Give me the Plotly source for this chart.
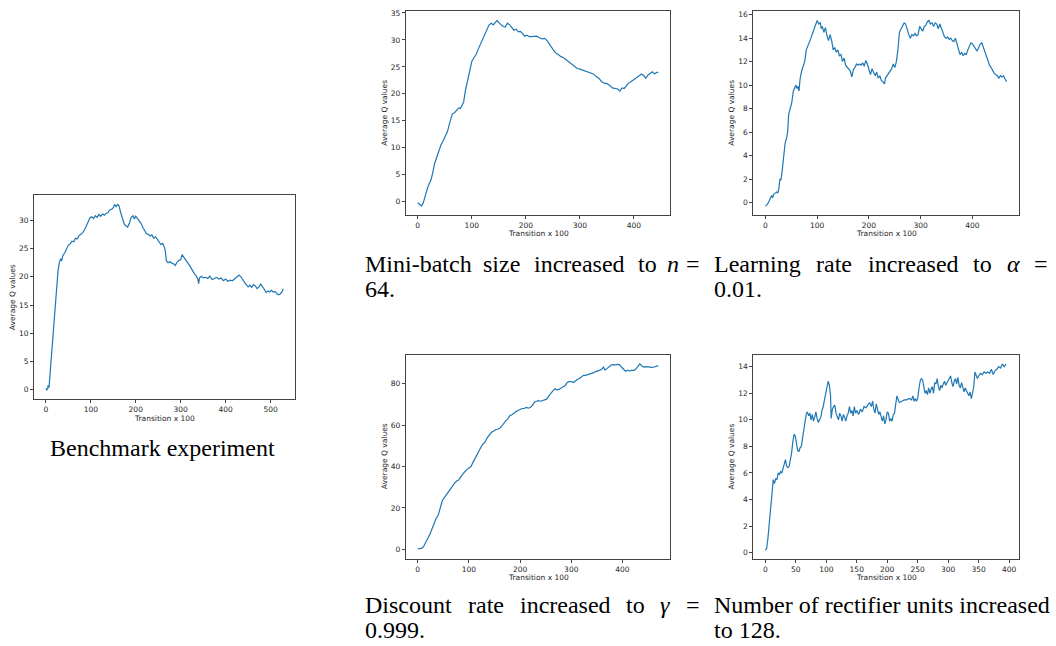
import plotly.graph_objects as go

# ---------------- data ----------------
bench_x = [0, 2, 4, 5, 7, 9, 12, 15, 18, 21, 24, 27, 30, 33, 35, 38, 42, 46, 50, 54, 58, 62, 66, 70, 74, 78, 82, 86, 90, 94, 98,
           102, 106, 110, 114, 118, 122, 126, 130, 134, 138, 142, 146, 150, 153, 156, 160, 163, 166, 170, 174, 178, 182, 186, 190,
           194, 197, 200, 204, 208, 212, 216, 220, 224, 228, 232, 236, 240, 244, 248, 252, 256, 260, 264, 266, 268, 272, 276, 280,
           284, 288, 292, 296, 300, 303, 306, 310, 314, 318, 322, 326, 330, 334, 338, 340, 342, 346, 350, 355, 360, 365, 370, 375,
           380, 385, 390, 395, 400, 405, 410, 415, 420, 425, 430, 434, 438, 442, 446, 450, 454, 458, 462, 466, 470, 474, 478, 482,
           486, 490, 494, 498, 502, 506, 510, 514, 518, 522, 526, 528]
bench_y = [0.3, 0.0, 0.2, 0.8, 0.4, 2.5, 5.5, 8, 12, 16, 19, 21, 22.5, 23.2, 22.8, 23.8, 24.2, 25.0, 25.6, 25.8, 26.3, 26.2, 26.8,
           26.7, 27.3, 27.5, 27.8, 28.3, 28.9, 29.7, 30.4, 30.6, 30.3, 30.8, 30.5, 31.0, 30.7, 31.1, 30.9, 31.2, 31.3, 31.8, 31.9,
           32.2, 32.8, 32.4, 32.8, 32.5, 31.5, 30.5, 29.4, 29.0, 28.8, 29.5, 30.5, 30.8, 30.2, 30.7, 30.3, 29.8, 29.4, 28.7, 28.2,
           27.6, 27.5, 27.2, 27.4, 26.8, 27.1, 26.6, 26.2, 25.7, 25.9, 25.2, 24.5, 22.8, 22.5, 22.7, 22.4, 22.3, 22.0, 22.6, 22.9,
           23.0, 23.9, 23.6, 23.2, 22.7, 22.2, 21.7, 21.0, 20.6, 20.2, 19.6, 18.8, 19.8, 20.1, 19.8, 19.9, 19.7, 20.1, 19.5, 19.7,
           19.9, 19.6, 19.8, 19.3, 19.6, 19.2, 19.4, 19.3, 19.6, 20.0, 20.3, 20.0, 19.4, 19.0, 18.6, 18.2, 18.5, 18.1, 18.6, 18.4,
           17.9, 18.2, 18.7, 18.3, 17.8, 17.2, 17.5, 17.3, 17.6, 17.3, 17.4, 17.0, 16.8, 17.0, 17.4, 17.9]

batch_x = [0, 7, 10, 12, 15, 18, 22, 25, 28, 31, 35, 39, 43, 47, 51, 55, 58, 61, 64, 68, 72, 76, 79, 82, 85, 88, 91, 94, 97, 100,
           104, 108, 112, 116, 120, 124, 128, 132, 136, 140, 144, 147, 150, 154, 158, 162, 166, 170, 174, 178, 182, 186, 190, 194,
           198, 202, 206, 210, 215, 220, 225, 230, 235, 240, 245, 250, 255, 260, 265, 270, 275, 280, 285, 290, 295, 300, 305, 310,
           315, 320, 325, 330, 335, 340, 345, 350, 355, 360, 365, 370, 374, 378, 382, 386, 390, 395, 400, 405, 410, 414, 418, 422,
           426, 430, 434, 438, 442, 445]
batch_y = [-0.2, -0.8, -0.3, 0.5, 1.5, 2.5, 3.5, 4.2, 5.5, 7.0, 8.2, 9.5, 10.5, 11.3, 12.2, 13.0, 14.2, 15.5, 16.3, 16.5, 16.9,
           17.4, 17.3, 17.8, 18.5, 20.5, 22.0, 23.5, 24.6, 26.0, 26.7, 27.3, 28.3, 29.2, 30.2, 31.0, 32.0, 32.8, 33.1, 32.8, 33.3,
           33.6, 33.2, 32.8, 32.5, 32.4, 33.1, 32.8, 32.3, 31.8, 32.0, 31.5, 31.6, 31.2, 30.7, 30.9, 30.6, 30.6, 30.6, 30.7, 30.4,
           30.2, 30.3, 29.8, 29.0, 28.2, 27.6, 27.3, 26.9, 26.7, 26.3, 26.0, 25.6, 25.2, 24.7, 24.6, 24.4, 24.3, 24.1, 23.9, 23.7,
           23.2, 22.9, 22.3, 22.0, 21.9, 21.6, 21.1, 21.0, 20.9, 20.5, 21.1, 21.0, 21.5, 22.0, 22.3, 22.7, 23.1, 23.5, 23.7, 23.4,
           22.9, 23.5, 23.8, 24.1, 23.7, 24.0, 24.0]

lr_x = [0, 3, 6, 9, 12, 14, 16, 19, 22, 24, 26, 28, 30, 32, 34, 36, 38, 41, 43, 45, 48, 51, 54, 57, 59, 61, 63, 65, 67, 70, 73, 76,
        79, 82, 85, 88, 91, 94, 97, 100, 103, 106, 108, 110, 113, 116, 119, 122, 125, 128, 131, 134, 137, 140, 143, 146, 149, 152,
        155, 158, 161, 164, 167, 170, 173, 176, 179, 182, 185, 188, 191, 194, 197, 200, 203, 206, 209, 212, 215, 218, 221, 224, 227,
        230, 232, 235, 238, 241, 244, 247, 250, 253, 256, 259, 262, 265, 268, 271, 274, 277, 280, 283, 286, 289, 292, 295, 298, 301,
        304, 307, 310, 313, 316, 319, 322, 325, 328, 331, 334, 337, 340, 343, 346, 349, 352, 355, 358, 361, 364, 367, 370, 373, 376,
        379, 382, 385, 388, 391, 394, 397, 400, 403, 406, 409, 412, 415, 418, 421, 424, 427, 430, 433, 436, 439, 442, 445, 448, 451,
        454, 457, 460, 463, 466]
lr_y = [-0.3, -0.2, 0.0, 0.3, 0.6, 0.4, 0.7, 0.8, 0.9, 0.8, 1.2, 2.0, 1.9, 2.5, 3.5, 4.5, 5.0, 5.5, 6.0, 7.5, 8.0, 8.5, 9.5, 9.8,
        10.0, 9.7, 9.9, 9.5, 10.5, 11.2, 11.6, 12.0, 13.0, 13.3, 13.7, 14.0, 14.4, 14.8, 15.1, 15.5, 15.2, 15.3, 14.8, 15.0, 14.5,
        14.9, 14.2, 13.8, 14.3, 13.8, 13.0, 13.2, 12.8, 13.0, 12.5, 12.6, 12.0, 12.3, 11.7, 11.5, 11.4, 11.2, 10.7, 11.3, 11.5, 11.8,
        11.7, 11.8, 11.7, 11.9, 11.6, 12.1, 11.8, 11.3, 10.9, 11.4, 11.0, 10.8, 11.1, 10.6, 10.8, 10.4, 10.3, 10.1, 10.6, 10.8, 11.0,
        11.2, 11.4, 11.8, 11.5, 12.0, 13.0, 14.5, 14.8, 15.1, 15.3, 15.2, 14.7, 14.3, 14.0, 14.3, 14.2, 14.4, 14.2, 14.3, 15.0, 14.8,
        14.6, 15.0, 15.1, 15.4, 15.5, 15.2, 15.3, 15.0, 15.3, 15.2, 14.8, 15.2, 14.8, 14.3, 14.1, 14.0, 14.1, 13.9, 14.0, 13.8, 13.7,
        14.0, 13.5, 13.0, 12.6, 12.8, 12.5, 12.7, 12.6, 13.0, 13.3, 13.6, 13.5, 13.3, 13.0, 12.9, 13.2, 13.5, 13.6, 13.2, 12.8, 12.3,
        12.0, 11.7, 11.5, 11.2, 11.0, 10.9, 10.8, 10.6, 10.8, 10.7, 10.8, 10.5, 10.3]

disc_x = [0, 5, 8, 11, 14, 17, 20, 24, 28, 32, 36, 40, 44, 48, 52, 56, 60, 64, 68, 72, 76, 80, 84, 88, 92, 96, 100, 104, 108, 112,
          116, 120, 124, 128, 132, 136, 140, 144, 148, 152, 156, 160, 164, 168, 172, 176, 180, 184, 188, 192, 196, 200, 204, 208,
          212, 216, 220, 224, 228, 232, 236, 240, 244, 248, 252, 256, 260, 264, 268, 272, 276, 280, 284, 288, 292, 296, 300, 304,
          308, 312, 316, 320, 324, 328, 332, 336, 340, 344, 348, 352, 356, 360, 363, 366, 370, 374, 378, 382, 386, 390, 394, 398,
          402, 406, 410, 414, 418, 422, 426, 430, 434, 438, 442, 446, 450, 454, 458, 462, 466, 470]
disc_y = [0.2, 0.3, 0.6, 1.2, 2.5, 4.0, 5.5, 7.5, 10.0, 13.0, 15.0, 16.5, 20.0, 23.5, 25.0, 26.5, 27.5, 29.0, 30.5, 32.0, 33.0,
          33.5, 35.0, 36.5, 37.5, 38.5, 39.5, 40.0, 42.0, 44.0, 46.0, 48.0, 49.5, 51.0, 52.0, 54.0, 55.5, 56.5, 57.0, 57.8, 58.0,
          58.5, 59.5, 61.0, 62.0, 63.0, 64.5, 65.0, 66.0, 66.5, 67.0, 67.5, 68.0, 68.0, 68.5, 68.2, 68.5, 69.5, 71.0, 71.5, 71.8,
          71.5, 71.8, 72.0, 72.5, 74.0, 75.5, 76.5, 77.5, 77.0, 77.2, 78.0, 78.5, 79.0, 80.5, 81.0, 81.0, 80.5, 81.5, 82.0, 82.5,
          83.5, 84.0, 84.0, 84.3, 84.5, 85.0, 85.3, 85.8, 86.0, 86.5, 87.0, 88.0, 86.5, 87.5, 88.5, 89.0, 89.2, 89.0, 89.3, 89.2,
          88.0, 87.0, 86.0, 86.5, 86.0, 86.5, 86.3, 87.0, 88.5, 89.5, 88.5, 88.0, 88.2, 88.0, 88.0, 87.8, 88.0, 88.3, 88.7]

rect_x = [0, 2, 4, 6, 8, 10, 12, 13, 15, 17, 19, 21, 23, 25, 27, 29, 31, 33, 35, 37, 39, 41, 43, 45, 47, 49, 51, 53, 55, 57, 59,
          61, 63, 65, 67, 69, 71, 73, 75, 77, 79, 81, 83, 85, 87, 89, 91, 93, 95, 97, 99, 101, 103, 105, 107, 108, 110, 112, 114,
          116, 118, 120, 122, 124, 126, 128, 130, 132, 134, 136, 138, 140, 142, 144, 146, 148, 150, 153, 156, 159, 162, 165, 168,
          171, 174, 176, 178, 180, 182, 184, 186, 188, 190, 192, 194, 196, 198, 200, 202, 204, 206, 208, 210, 212, 214, 216, 218,
          220, 224, 228, 232, 236, 240, 242, 244, 246, 248, 250, 252, 254, 256, 258, 260, 262, 264, 266, 268, 270, 272, 274, 276,
          278, 280, 282, 284, 286, 288, 290, 292, 294, 296, 298, 300, 302, 304, 306, 308, 310, 312, 314, 316, 318, 320, 322, 324,
          326, 328, 330, 332, 334, 336, 338, 340, 342, 344, 346, 348, 350, 353, 356, 359, 362, 365, 368, 371, 374, 377, 380, 383,
          386, 389, 392, 395]
rect_y = [0.2, 0.3, 1.0, 2.0, 3.0, 4.0, 5.0, 5.5, 5.2, 5.6, 5.5, 6.0, 5.9, 6.1, 6.0, 6.3, 6.7, 7.0, 6.5, 6.4, 6.5, 6.9, 7.5, 8.3,
          8.9, 8.8, 8.3, 7.7, 7.6, 7.9, 8.0, 8.6, 9.3, 10.0, 10.4, 10.6, 10.3, 10.5, 10.0, 10.4, 9.9, 10.2, 10.6, 10.1, 9.8, 10.0,
          10.2, 10.7, 11.0, 11.5, 12.0, 12.6, 12.9, 12.6, 11.8, 10.1, 10.8, 11.0, 11.1, 10.5, 10.2, 10.0, 10.5, 10.3, 9.9, 10.4,
          10.2, 9.9, 10.3, 10.5, 11.0, 10.5, 10.7, 10.3, 11.0, 10.5, 10.7, 10.4, 10.8, 10.6, 11.0, 10.9, 11.1, 11.3, 11.0, 11.4,
          10.8, 10.5, 11.2, 10.8, 10.4, 10.6, 10.2, 9.9, 10.3, 9.7, 10.0, 10.6, 10.5, 9.9, 10.1, 9.9, 10.4, 10.5, 11.2, 11.8, 11.5,
          11.3, 11.4, 11.5, 11.5, 11.6, 11.5, 11.8, 11.4, 11.6, 11.4, 11.6, 12.3, 12.9, 13.1, 13.0, 12.5, 12.0, 12.2, 11.9, 12.4,
          12.0, 12.3, 12.5, 12.0, 12.8, 12.7, 13.1, 12.5, 12.2, 12.6, 12.4, 12.7, 12.9, 12.6, 12.8, 13.0, 13.2, 13.3, 12.8, 12.5,
          12.9, 13.1, 12.7, 13.2, 12.6, 12.4, 12.8, 12.3, 12.1, 12.4, 12.2, 12.0, 11.8, 12.1, 11.6, 12.0, 12.5, 13.6, 13.3, 13.1,
          13.3, 13.5, 13.4, 13.6, 13.5, 13.6, 13.5, 13.8, 13.4, 13.7, 13.8, 14.0, 13.9, 14.2, 14.0, 14.2]

bench_xticks = [0, 100, 200, 300, 400, 500]
bench_yticks = [0, 5, 10, 15, 20, 25, 30]
batch_xticks = [0, 100, 200, 300, 400]
batch_yticks = [0, 5, 10, 15, 20, 25, 30, 35]
lr_xticks = [0, 100, 200, 300, 400]
lr_yticks = [0, 2, 4, 6, 8, 10, 12, 14, 16]
disc_xticks = [0, 100, 200, 300, 400]
disc_yticks = [0, 20, 40, 60, 80]
rect_xticks = [0, 50, 100, 150, 200, 250, 300, 350, 400]
rect_yticks = [0, 2, 4, 6, 8, 10, 12, 14]

x_title = "Transition x 100"
y_title = "Average Q values"

# ---------------- layout ----------------
W, H = 1056, 646
LINE = "#1f77b4"
TXT = "#262626"
SPINE = "#444444"


def px(xp):
    return xp / W


def py(yp):
    return 1 - yp / H


panels = [
    dict(x=bench_x, y=bench_y, box=(34, 193, 295, 398), xr=[-26.4, 554.4], yr=[-1.64, 34.44],
         xt=bench_xticks, yt=bench_yticks, ytx=12, xty=417),
    dict(x=batch_x, y=batch_y, box=(405.7, 8.3, 670.3, 213.3), xr=[-22.25, 467.25], yr=[-2.52, 35.32],
         xt=batch_xticks, yt=batch_yticks, ytx=384.5, xty=232),
    dict(x=lr_x, y=lr_y, box=(753.3, 8.3, 1018.7, 213.3), xr=[-23.3, 489.3], yr=[-1.09, 16.29],
         xt=lr_xticks, yt=lr_yticks, ytx=731.5, xty=232),
    dict(x=disc_x, y=disc_y, box=(405.7, 353.3, 670.3, 558.3), xr=[-23.5, 493.5], yr=[-4.47, 93.97],
         xt=disc_xticks, yt=disc_yticks, ytx=384.5, xty=577.5),
    dict(x=rect_x, y=rect_y, box=(753.3, 353.3, 1018.7, 559), xr=[-19.8, 415.8], yr=[-0.5, 14.9],
         xt=rect_xticks, yt=rect_yticks, ytx=731.5, xty=577.5),
]

fig = go.Figure()
layout = dict(width=W, height=H, margin=dict(l=0, r=0, t=0, b=0), paper_bgcolor="white",
              plot_bgcolor="white", showlegend=False, font=dict(family="DejaVu Sans", size=7.5, color=TXT))
annotations = []
tickfont = dict(family="DejaVu Sans", size=7.5, color=TXT)

for i, p in enumerate(panels, start=1):
    xa = "xaxis" if i == 1 else f"xaxis{i}"
    ya = "yaxis" if i == 1 else f"yaxis{i}"
    xr_ = "x" if i == 1 else f"x{i}"
    yr_ = "y" if i == 1 else f"y{i}"
    fig.add_trace(go.Scatter(x=p["x"], y=p["y"], mode="lines", line=dict(color=LINE, width=1.2),
                             xaxis=xr_, yaxis=yr_, hoverinfo="skip"))
    l, t, r, b = p["box"]
    common = dict(showgrid=False, zeroline=False, showline=True, mirror=True, linecolor=SPINE, linewidth=0.9,
                  ticks="outside", ticklen=3, tickwidth=0.8, tickcolor=SPINE, tickfont=tickfont, fixedrange=True,
                  ticklabeloverflow="allow")
    layout[xa] = dict(domain=[px(l), px(r)], range=p["xr"], anchor=yr_, tickvals=p["xt"],
                      ticktext=[str(v) for v in p["xt"]], **common)
    layout[ya] = dict(domain=[py(b), py(t)], range=p["yr"], anchor=xr_, tickvals=p["yt"],
                      ticktext=[str(v) for v in p["yt"]], **common)
    annotations.append(dict(text=x_title, x=px((l + r) / 2), y=py(p["xty"]), xref="paper", yref="paper",
                            xanchor="center", yanchor="middle", showarrow=False,
                            font=dict(family="DejaVu Sans", size=7.5, color=TXT)))
    annotations.append(dict(text=y_title, x=px(p["ytx"]), y=py((t + b) / 2), xref="paper", yref="paper",
                            xanchor="center", yanchor="middle", showarrow=False, textangle=-90,
                            font=dict(family="DejaVu Sans", size=7.5, color=TXT)))

# ---------------- captions ----------------
CAP = dict(family="Liberation Serif", size=24, color="black")


def word(text, xp, yp, anchor="left"):
    annotations.append(dict(text=text, x=px(xp), y=py(yp), xref="paper", yref="paper", xanchor=anchor,
                            yanchor="middle", showarrow=False, font=CAP))


word("Benchmark experiment", 162.5, 447, "center")

L1_TOP, L2_TOP = 262, 287
L1_BOT, L2_BOT = 605, 630

# Mini-batch caption (justified first line)
for w_, xw in [("Mini-batch", 363), ("size", 481), ("increased", 532), ("to", 636), ("<i>n</i>", 665)]:
    word(w_, xw, L1_TOP)
word("=", 702, L1_TOP, "right")
word("64.", 363, L2_TOP)

# Learning-rate caption
for w_, xw in [("Learning", 712), ("rate", 814), ("increased", 866), ("to", 971), ("<i>α</i>", 1005)]:
    word(w_, xw, L1_TOP)
word("=", 1050, L1_TOP, "right")
word("0.01.", 712, L2_TOP)

# Discount caption
for w_, xw in [("Discount", 363), ("rate", 466), ("increased", 518), ("to", 624), ("<i>γ</i>", 658)]:
    word(w_, xw, L1_BOT)
word("=", 702, L1_BOT, "right")
word("0.999.", 363, L2_BOT)

# Rectifier caption
word("Number of rectifier units increased", 712, L1_BOT)
word("to 128.", 712, L2_BOT)

layout["annotations"] = annotations
fig.update_layout(**layout)
fig.write_html("out.html", config={"displayModeBar": False},
               post_script="document.body.style.margin='0';")
